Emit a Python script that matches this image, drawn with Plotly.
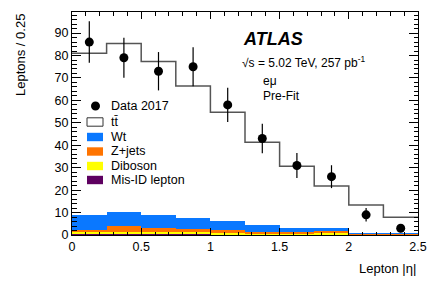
import numpy as np
import plotly.graph_objects as go

# ---- data ----
bin_edges = [0.0, 0.25, 0.5, 0.75, 1.0, 1.25, 1.5, 1.75, 2.0, 2.25, 2.5]
data_2017 = [86, 79, 73, 75, 58, 43, 31, 26, 9, 3]
misid = [0.3, 0.3, 0.3, 0.3, 0.3, 0.2, 0.2, 0.2, 0.1, 0.1]
diboson = [1.0, 1.0, 1.0, 0.9, 0.8, 0.6, 0.5, 0.5, 0.3, 0.3]
zjets = [1.1, 2.9, 1.9, 1.5, 1.0, 0.4, 0.5, 0.9, 0.1, 0.1]
wt = [6.7, 5.9, 5.6, 4.9, 4.0, 3.1, 1.9, 1.4, 0.5, 0.5]
ttbar = [71.9, 75.3, 68.5, 58.8, 48.6, 37.0, 27.6, 18.8, 12.4, 6.9]
x_ticks = [0, 0.5, 1, 1.5, 2, 2.5]
x_ticklabels = ["0", "0.5", "1", "1.5", "2", "2.5"]
y_ticks = [0, 10, 20, 30, 40, 50, 60, 70, 80, 90]

edges = np.array(bin_edges)
centers = (edges[:-1] + edges[1:]) / 2
widths = np.diff(edges)
total = np.array(misid) + np.array(diboson) + np.array(zjets) + np.array(wt) + np.array(ttbar)

colors = {
    "misid": "#5e0060",
    "diboson": "#ffff00",
    "zjets": "#ff7400",
    "wt": "#0a78ff",
    "ttbar": "#ffffff",
}

fig = go.Figure()
for name, vals, key in [("Mis-ID lepton", misid, "misid"), ("Diboson", diboson, "diboson"),
                        ("Z+jets", zjets, "zjets"), ("Wt", wt, "wt"), ("tt", ttbar, "ttbar")]:
    fig.add_trace(go.Bar(x=centers, y=vals, width=widths, marker=dict(color=colors[key], line=dict(width=0)),
                         name=name, showlegend=False, hoverinfo="skip"))

# total outline (step)
step_x = list(edges)
step_y = list(total) + [total[-1]]
fig.add_trace(go.Scatter(x=step_x, y=step_y, mode="lines", line=dict(shape="hv", color="#555555", width=1.5),
                         showlegend=False, hoverinfo="skip"))

# data
fig.add_trace(go.Scatter(x=centers, y=data_2017, mode="markers",
                         marker=dict(color="black", size=9),
                         error_y=dict(type="data", array=np.sqrt(data_2017), width=0, thickness=1.2, color="black"),
                         showlegend=False))

FONT = "Liberation Sans, Arial, sans-serif"
L, R, T, B = 72, 18, 12, 49
W, H = 436, 284
pw, ph = W - L - R, H - T - B

def px(xp):
    return (xp - L) / pw

def py(yp):
    return (H - B - yp) / ph

ann = []
shapes = []
# ATLAS label
ann.append(dict(x=px(241), y=py(39), xref="paper", yref="paper", xanchor="left", yanchor="middle",
                text="<b><i>ATLAS</i></b>", showarrow=False, font=dict(family=FONT, size=18, color="black")))
ann.append(dict(x=px(240), y=py(62), xref="paper", yref="paper", xanchor="left", yanchor="middle",
                text="√s = 5.02 TeV, 257 pb<sup>-1</sup>", showarrow=False, font=dict(family=FONT, size=12, color="black")))
ann.append(dict(x=px(261), y=py(81), xref="paper", yref="paper", xanchor="left", yanchor="middle",
                text="eμ", showarrow=False, font=dict(family=FONT, size=12, color="black")))
ann.append(dict(x=px(261), y=py(96), xref="paper", yref="paper", xanchor="left", yanchor="middle",
                text="Pre-Fit", showarrow=False, font=dict(family=FONT, size=12, color="black")))

# legend
leg_items = [("Data 2017", "data", 106), ("tt\u0304", "ttbar", 122), ("Wt", "wt", 137),
             ("Z+jets", "zjets", 151.5), ("Diboson", "diboson", 166), ("Mis-ID lepton", "misid", 180)]
for label, key, yc in leg_items:
    ann.append(dict(x=px(109), y=py(yc), xref="paper", yref="paper", xanchor="left", yanchor="middle",
                    text=label, showarrow=False, font=dict(family=FONT, size=12.5, color="black")))
    if key == "data":
        shapes.append(dict(type="circle", xref="paper", yref="paper", x0=px(91), x1=px(100), y0=py(yc + 4.5), y1=py(yc - 4.5),
                           fillcolor="black", line=dict(width=0)))
    else:
        shapes.append(dict(type="rect", xref="paper", yref="paper", x0=px(87), x1=px(103), y0=py(yc + 4.2), y1=py(yc - 4.2),
                           fillcolor=colors[key],
                           line=dict(width=1 if key == "ttbar" else 0, color="#333333")))

# axis titles
ann.append(dict(x=px(20), y=py(55), xref="paper", yref="paper", xanchor="center", yanchor="middle", textangle=-90,
                text="Leptons / 0.25", showarrow=False, font=dict(family=FONT, size=13, color="black")))
ann.append(dict(x=1.0, y=py(268), xref="paper", yref="paper", xanchor="right", yanchor="middle",
                text="Lepton |η|", showarrow=False, font=dict(family=FONT, size=13, color="black")))

fig.update_layout(
    width=W, height=H, margin=dict(l=L, r=R, t=T, b=B, autoexpand=False),
    paper_bgcolor="white", plot_bgcolor="white",
    barmode="stack", bargap=0,
    font=dict(family=FONT, size=12.5, color="black"),
    annotations=ann, shapes=shapes, showlegend=False,
    xaxis=dict(range=[0, 2.5], tickvals=x_ticks, ticktext=x_ticklabels, ticks="inside", ticklen=7,
               tickcolor="black", showline=True, linecolor="black", linewidth=1, mirror="allticks",
               showgrid=False, zeroline=False, automargin=False,
               minor=dict(dtick=0.1, ticks="inside", ticklen=3.5, tickcolor="black", showgrid=False),
               tickfont=dict(family=FONT, size=12.5)),
    yaxis=dict(range=[0, 99.4], tickvals=y_ticks, ticks="inside", ticklen=9,
               tickcolor="black", showline=True, linecolor="black", linewidth=1, mirror="allticks",
               showgrid=False, zeroline=False, automargin=False,
               minor=dict(dtick=2, ticks="inside", ticklen=4.5, tickcolor="black", showgrid=False),
               tickfont=dict(family=FONT, size=12.5)),
)

fig.write_html("out.html", config={"displayModeBar": False},
               post_script="document.body.style.margin='0';document.body.style.overflow='hidden';")
